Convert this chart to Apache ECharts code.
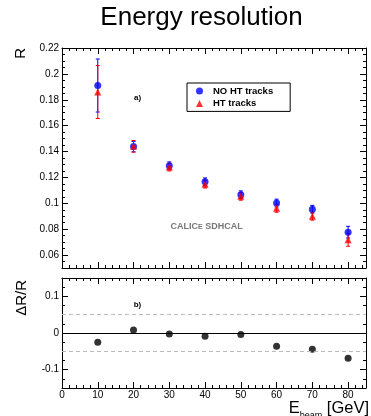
<!DOCTYPE html>
<html>
<head>
<meta charset="utf-8">
<script src="https://cdn.jsdelivr.net/npm/echarts@6/dist/echarts.min.js"></script>
<style>
html,body{margin:0;padding:0;background:#fff;}
#chart{width:371px;height:416px;}
</style>
</head>
<body>
<div id="chart"></div>
<script>
// ---- data ----
const energies = [10, 20, 30, 40, 50, 60, 70, 80];
const rNoHT   = [0.191, 0.1438, 0.129, 0.1166, 0.1066, 0.1002, 0.0954, 0.0777];
const errNoHT = [0.0205, 0.004, 0.003, 0.003, 0.003, 0.003, 0.003, 0.0045];
const rHT     = [0.186, 0.144, 0.128, 0.1148, 0.1054, 0.0961, 0.090, 0.0718];
const errHT   = [0.0205, 0.0045, 0.003, 0.003, 0.003, 0.003, 0.003, 0.005];
const deltaR  = [-0.0255, 0.008, -0.003, -0.009, -0.004, -0.036, -0.044, -0.069];
const xTickLabels = [0, 10, 20, 30, 40, 50, 60, 70, 80];
const rTickLabels = [0.06, 0.08, 0.1, 0.12, 0.14, 0.16, 0.18, 0.2, 0.22];
const dTickLabels = [-0.1, 0, 0.1];
const bandLines = [-0.05, 0.05];

const FONT = 'Liberation Sans, Arial, Helvetica, sans-serif';

function xAx(grid, pos, interval, len, showLine, labels) {
  const a = {
    type: 'value', gridIndex: grid, position: pos, min: 0, max: 85, interval: interval,
    axisLine: {show: showLine, onZero: false, lineStyle: {color: '#000', width: 1}},
    axisTick: {show: true, inside: true, length: len, lineStyle: {color: '#000', width: 1}},
    splitLine: {show: false},
    axisLabel: {show: false}
  };
  if (labels) {
    a.axisLabel = {show: true, customValues: labels, margin: 2, fontSize: 10, color: '#000', fontFamily: FONT};
  }
  return a;
}
function yAx(grid, pos, min, max, interval, len, showLine, ticks, labels) {
  const a = {
    type: 'value', gridIndex: grid, position: pos, min: min, max: max, interval: interval,
    axisLine: {show: showLine, onZero: false, lineStyle: {color: '#000', width: 1}},
    axisTick: {show: true, inside: true, length: len, lineStyle: {color: '#000', width: 1}},
    splitLine: {show: false},
    axisLabel: {show: false}
  };
  if (ticks) a.axisTick.customValues = ticks;
  if (labels) {
    a.axisLabel = {show: true, customValues: labels, margin: 3, fontSize: 10, color: '#000', fontFamily: FONT};
  }
  return a;
}

const xAxes = [
  xAx(0, 'bottom', 10, 6, true, null),   // 0
  xAx(0, 'bottom', 2, 3, false, null),   // 1
  xAx(0, 'top', 10, 6, true, null),      // 2
  xAx(0, 'top', 2, 3, false, null),      // 3
  xAx(1, 'bottom', 10, 6, true, xTickLabels), // 4
  xAx(1, 'bottom', 2, 3, false, null),   // 5
  xAx(1, 'top', 10, 6, true, null),      // 6
  xAx(1, 'top', 2, 3, false, null)       // 7
];
const yAxes = [
  yAx(0, 'left', 0.05, 0.22, 0.01, 6, true, rTickLabels, rTickLabels), // 0
  yAx(0, 'left', 0.05, 0.22, 0.005, 3, false, null, null),             // 1
  yAx(0, 'right', 0.05, 0.22, 0.01, 6, true, rTickLabels, null),       // 2
  yAx(0, 'right', 0.05, 0.22, 0.005, 3, false, null, null),            // 3
  yAx(1, 'left', -0.15, 0.15, 0.05, 6, true, dTickLabels, dTickLabels),// 4
  yAx(1, 'left', -0.15, 0.15, 0.025, 3, false, null, null),            // 5
  yAx(1, 'right', -0.15, 0.15, 0.05, 6, true, dTickLabels, null),      // 6
  yAx(1, 'right', -0.15, 0.15, 0.025, 3, false, null, null)            // 7
];

function errSeries(name, vals, errs, color) {
  return {
    name: name, type: 'custom', xAxisIndex: 0, yAxisIndex: 0, silent: true,
    data: energies.map((e, i) => [e, vals[i], errs[i]]),
    encode: {x: 0, y: 1},
    renderItem: function (params, api) {
      const x = api.value(0), y = api.value(1), e = api.value(2);
      const t = api.coord([x, y + e]);
      const b = api.coord([x, y - e]);
      const st = {stroke: color, lineWidth: 1};
      return {type: 'group', children: [
        {type: 'line', shape: {x1: t[0], y1: t[1], x2: b[0], y2: b[1]}, style: st},
        {type: 'line', shape: {x1: t[0] - 2, y1: t[1], x2: t[0] + 2, y2: t[1]}, style: st},
        {type: 'line', shape: {x1: b[0] - 2, y1: b[1], x2: b[0] + 2, y2: b[1]}, style: st}
      ]};
    }
  };
}

const option = {
  animation: false,
  backgroundColor: '#fff',
  grid: [
    {left: 62, top: 48, width: 304, height: 220},
    {left: 62, top: 278, width: 304, height: 110}
  ],
  xAxis: xAxes,
  yAxis: yAxes,
  legend: {
    left: 187, top: 83, orient: 'vertical',
    borderColor: '#000', borderWidth: 1, borderRadius: 0,
    padding: [3, 17, 3, 9], itemGap: 2.4,
    itemWidth: 7, itemHeight: 7,
    textStyle: {fontSize: 9.5, fontWeight: 'bold', color: '#000', fontFamily: FONT, lineHeight: 10, padding: [0, 0, 0, 5]},
    data: [{name: 'NO HT tracks', icon: 'circle'}, {name: 'HT tracks', icon: 'triangle'}]
  },
  series: [
    errSeries('errNoHT', rNoHT, errNoHT, '#0000ff'),
    {
      name: 'NO HT tracks', type: 'scatter', xAxisIndex: 0, yAxisIndex: 0,
      symbol: 'circle', symbolSize: 7, itemStyle: {color: '#0000ff'},
      data: energies.map((e, i) => [e, rNoHT[i]])
    },
    errSeries('errHT', rHT, errHT, '#ff0000'),
    {
      name: 'HT tracks', type: 'scatter', xAxisIndex: 0, yAxisIndex: 0,
      symbol: 'triangle', symbolSize: 7, itemStyle: {color: '#ff0000'},
      data: energies.map((e, i) => [e, rHT[i]])
    },
    {
      name: 'deltaR', type: 'scatter', xAxisIndex: 4, yAxisIndex: 4,
      symbol: 'circle', symbolSize: 7, itemStyle: {color: '#000'},
      data: energies.map((e, i) => [e, deltaR[i]]),
      markLine: {
        silent: true, symbol: 'none', label: {show: false}, animation: false,
        data: [
          {yAxis: 0, lineStyle: {color: '#000', width: 1.2, type: 'solid'}},
          {yAxis: bandLines[0], lineStyle: {color: '#bbb', width: 1, type: [4, 3]}},
          {yAxis: bandLines[1], lineStyle: {color: '#bbb', width: 1, type: [4, 3]}}
        ]
      }
    }
  ],
  graphic: [
    {type: 'text', x: 201.5, y: 18, style: {text: 'Energy resolution', font: '26px ' + FONT, fill: '#000', textAlign: 'center', textVerticalAlign: 'middle'}},
    {type: 'text', x: 21, y: 48, rotation: Math.PI / 2, style: {text: 'R', font: '15px ' + FONT, fill: '#000', textAlign: 'right', textVerticalAlign: 'middle'}},
    {type: 'text', x: 21.5, y: 280, rotation: Math.PI / 2, style: {text: 'ΔR/R', font: '15px ' + FONT, fill: '#000', textAlign: 'right', textVerticalAlign: 'middle'}},
    {type: 'text', x: 137.5, y: 97.5, style: {text: 'a)', font: 'bold 8px ' + FONT, fill: '#000', textAlign: 'center', textVerticalAlign: 'middle'}},
    {type: 'text', x: 137.5, y: 304.5, style: {text: 'b)', font: 'bold 8px ' + FONT, fill: '#000', textAlign: 'center', textVerticalAlign: 'middle'}},
    {type: 'text', x: 170.5, y: 226.5, style: {
      text: '{n|CALIC}{s|E}{n| SDHCAL}', textAlign: 'left', textVerticalAlign: 'middle',
      rich: {
        n: {fontSize: 9, fontWeight: 'bold', fontFamily: FONT, fill: '#777', color: '#777', lineHeight: 10, verticalAlign: 'bottom'},
        s: {fontSize: 7, fontWeight: 'bold', fontFamily: FONT, fill: '#777', color: '#777', lineHeight: 9, verticalAlign: 'bottom', padding: [0, 0, 1, 0]}
      }
    }},
    {type: 'text', x: 369, y: 411, style: {
      text: '{e|E}{s|beam}{e| [GeV]}', textAlign: 'right', textVerticalAlign: 'middle',
      rich: {
        e: {fontSize: 16.5, fontFamily: FONT, fill: '#000', color: '#000', lineHeight: 18, verticalAlign: 'top'},
        s: {fontSize: 9, fontFamily: FONT, fill: '#000', color: '#000', lineHeight: 22, verticalAlign: 'top', padding: [11, 0, 0, 0]}
      }
    }}
  ]
};

const chart = echarts.init(document.getElementById('chart'), null, {renderer: 'canvas'});
chart.setOption(option);
</script>
</body>
</html>
